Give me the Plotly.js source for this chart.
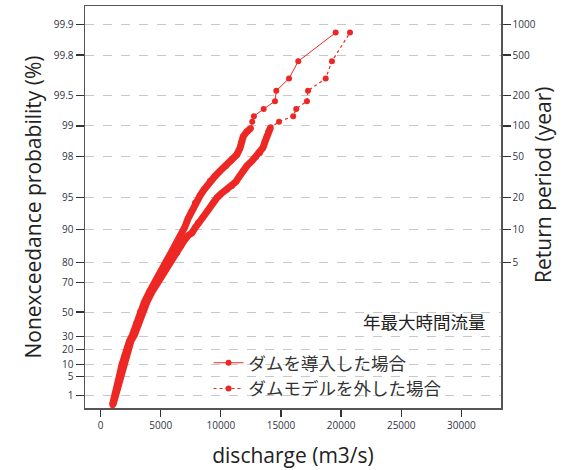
<!DOCTYPE html>
<html>
<head>
<meta charset="utf-8">
<script src="https://cdn.plot.ly/plotly-3.0.1.min.js"></script>
<style>html,body{margin:0;padding:0;background:#fff;}#chart{width:566px;height:470px;}</style>
</head>
<body>
<div id="chart"></div>
<script>
// Discharge (m3/s) and nonexceedance probability (%)
const damQ = [980,1230,1400,1560,1770,1980,2190,2400,2650,2940,3270,3640,4060,4560,5020,5430,5850,6270,6600,7010,7260,7510,7850,8260,8590,9090,9510,9930,10430,10840,11320,11590,11730,11860,12150,12500,12610,12750,13560,14500,14610,15670,16440,19550];
const damP = [0.32,1.03,2.6,5.1,9.9,15.2,20.8,26.2,31.1,40.3,50.1,57.6,64.5,70.5,75.2,80.1,83.5,86.3,88.2,90.5,92.0,93.1,94.4,95.2,95.8,96.55,96.9,97.24,97.54,97.80,98.08,98.35,98.58,98.73,98.86,98.95,99.09,99.20,99.32,99.43,99.55,99.66,99.77,99.88];

const noDamQ = [1020,1270,1480,1690,1900,2100,2350,2520,2810,3140,3480,3850,4270,4770,5270,5680,6020,6350,6680,6930,7260,7600,7850,8100,8510,8930,9340,9680,10010,10510,10920,11260,11510,11840,12170,12590,12920,13250,13500,13670,13810,13940,14140,14840,16020,16270,17160,17250,18720,19240,20740];
const noDamP = [0.32,1.03,2.6,5.1,9.9,15.2,20.8,26.2,31.1,40.3,50.1,57.6,64.5,70.5,75.2,79.3,81.7,83.5,85.7,87.2,88.5,89.2,90.3,91.3,92.3,93.4,94.4,95.0,95.4,95.8,96.15,96.5,96.85,97.24,97.54,97.80,97.99,98.16,98.36,98.57,98.73,98.86,98.97,99.09,99.20,99.32,99.43,99.55,99.66,99.77,99.88];

const probTicks = [1,5,10,20,30,50,70,80,90,95,98,99,99.5,99.8,99.9];
const probTickText = ['1','5','10','20','30','50','70','80','90','95','98','99','99.5','99.8','99.9'];
const returnTicks = [5,10,20,50,100,200,500,1000];
const returnTickText = ['5','10','20','50','100','200','500','1000'];
const xTicks = [0,5000,10000,15000,20000,25000,30000];

const names = ['ダムを導入した場合','ダムモデルを外した場合'];
const titleX = 'discharge (m3/s)';
const titleY = 'Nonexceedance probability (%)';
const titleY2 = 'Return period (year)';
const note = '年最大時間流量';

// Gumbel probability scale
const gum = p => -Math.log(-Math.log(p/100));
const gumT = T => gum(100*(1-1/T));

const RED = 'rgb(237,40,36)';
const BAND_MAX = 99.0;

function band(q, p){
  const xs=[], ys=[];
  for(let i=0;i<q.length;i++){ if(p[i]<=BAND_MAX){ xs.push(q[i]); ys.push(gum(p[i])); } }
  return {x:xs, y:ys};
}
const b1 = band(damQ, damP), b2 = band(noDamQ, noDamP);

const traces = [
  {x:b2.x, y:b2.y, mode:'lines', line:{color:RED, width:7}, showlegend:false, hoverinfo:'skip'},
  {x:b1.x, y:b1.y, mode:'lines', line:{color:RED, width:7}, showlegend:false, hoverinfo:'skip'},
  {x:damQ, y:damP.map(gum), name:names[0], mode:'lines+markers',
   line:{color:RED, width:1}, marker:{color:RED, size:6}},
  {x:noDamQ, y:noDamP.map(gum), name:names[1], mode:'lines+markers',
   line:{color:RED, width:1.2, dash:'dot'}, marker:{color:RED, size:6}},
  {x:[null], y:[null], yaxis:'y2', showlegend:false, hoverinfo:'skip'}
];

const yr = [-1.816, 7.33];
const tickFont = {family:'Open Sans, Noto Sans, sans-serif', size:10, color:'#333344'};
const titleFont = {family:'Open Sans, sans-serif', size:21, color:'#222'};

const layout = {
  width:566, height:470,
  margin:{l:85, r:65, t:6, b:62},
  paper_bgcolor:'#fff', plot_bgcolor:'#fff',
  showlegend:true,
  legend:{x:0.297, y:0.157, xanchor:'left', yanchor:'top', bgcolor:'rgba(0,0,0,0)',
    font:{family:'Noto Sans CJK JP, sans-serif', size:17.5, color:'#333'}, tracegroupgap:0},
  xaxis:{range:[-1300,33300], tickvals:xTicks, ticktext:xTicks.map(String),
    ticks:'outside', ticklen:7, tickcolor:'#333', tickwidth:1.2,
    showgrid:false, zeroline:false, showline:true, mirror:true, linecolor:'#555', linewidth:1.5,
    tickfont:tickFont,
    title:{text:titleX, font:titleFont, standoff:18}},
  yaxis:{range:yr, tickvals:probTicks.map(gum), ticktext:probTickText,
    ticks:'outside', ticklen:8, tickcolor:'#333', tickwidth:1.2,
    showgrid:true, gridcolor:'#c8c8c8', gridwidth:1, griddash:'dash',
    zeroline:false, showline:true, linecolor:'#555', linewidth:1.5,
    tickfont:tickFont,
    title:{text:titleY, font:titleFont, standoff:6}},
  yaxis2:{range:yr, overlaying:'y', side:'right', tickvals:returnTicks.map(gumT), ticktext:returnTickText,
    ticks:'outside', ticklen:8, tickcolor:'#333', tickwidth:1.2,
    showgrid:false, zeroline:false, showline:true, linecolor:'#555', linewidth:1.5,
    tickfont:tickFont},
  annotations:[
    {text:note, xref:'paper', yref:'paper', x:0.969, y:0.215, xanchor:'right', yanchor:'middle',
     showarrow:false, font:{family:'Noto Sans CJK JP, sans-serif', size:17.5, color:'#222'}},
    {text:titleY2, xref:'paper', yref:'paper', x:1.101, y:0.555, xanchor:'center', yanchor:'middle',
     textangle:-90, showarrow:false, font:titleFont}
  ]
};

Plotly.newPlot('chart', traces, layout, {displayModeBar:false, staticPlot:true});
</script>
</body>
</html>
